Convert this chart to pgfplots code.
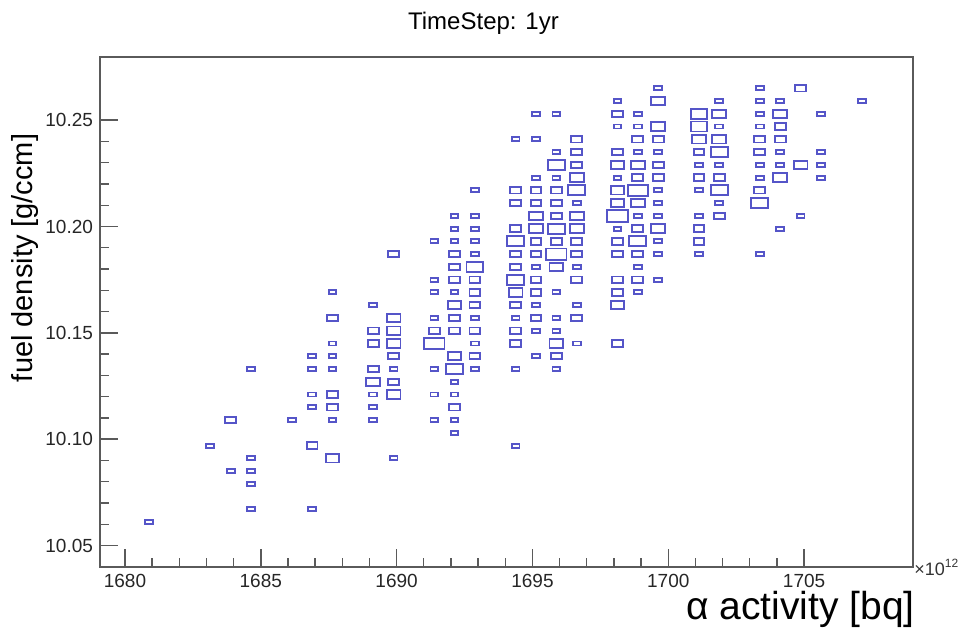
\documentclass[border=0pt]{standalone}
\usepackage{pgfplots}
\pgfplotsset{compat=1.18}
\usepackage{fontspec}
\setmainfont{Liberation Sans}
\definecolor{boxblue}{RGB}{85,85,200}
\definecolor{framegray}{RGB}{90,90,90}
\pgfdeclareplotmark{bxA}{\pgfpathrectangle{\pgfpoint{-1.95pt}{-1pt}}{\pgfpoint{3.9pt}{2pt}}\pgfusepathqstroke}
\pgfdeclareplotmark{bxB}{\pgfpathrectangle{\pgfpoint{-2.7pt}{-1.6pt}}{\pgfpoint{5.4pt}{3.2pt}}\pgfusepathqstroke}
\pgfdeclareplotmark{bxC}{\pgfpathrectangle{\pgfpoint{-3.45pt}{-2.1pt}}{\pgfpoint{6.9pt}{4.2pt}}\pgfusepathqstroke}
\pgfdeclareplotmark{bxD}{\pgfpathrectangle{\pgfpoint{-4.2pt}{-2.5pt}}{\pgfpoint{8.4pt}{5pt}}\pgfusepathqstroke}
\pgfdeclareplotmark{bxE}{\pgfpathrectangle{\pgfpoint{-5.075pt}{-2.85pt}}{\pgfpoint{10.15pt}{5.7pt}}\pgfusepathqstroke}

\pgfplotstableread{
x y
1680.89 10.061
1683.14 10.097
1683.89 10.085
1684.64 10.133
1684.64 10.091
1684.64 10.085
1684.64 10.079
1684.64 10.067
1686.14 10.109
1686.89 10.139
1686.89 10.133
1686.89 10.121
1686.89 10.115
1686.89 10.067
1687.64 10.169
1687.64 10.145
1687.64 10.139
1687.64 10.133
1687.64 10.109
1689.14 10.163
1689.14 10.121
1689.14 10.115
1689.14 10.109
1689.89 10.133
1689.89 10.091
1691.39 10.193
1691.39 10.175
1691.39 10.169
1691.39 10.157
1691.39 10.133
1691.39 10.121
1691.39 10.109
1692.13 10.205
1692.13 10.199
1692.13 10.193
1692.13 10.169
1692.13 10.127
1692.13 10.121
1692.13 10.109
1692.13 10.103
1692.88 10.217
1692.88 10.205
1692.88 10.199
1692.88 10.193
1692.88 10.187
1692.88 10.157
1692.88 10.145
1692.88 10.133
1694.38 10.241
1694.38 10.157
1694.38 10.133
1694.38 10.097
1695.13 10.253
1695.13 10.241
1695.13 10.223
1695.13 10.181
1695.13 10.163
1695.13 10.151
1695.13 10.139
1695.88 10.253
1695.88 10.235
1695.88 10.223
1695.88 10.169
1695.88 10.157
1695.88 10.151
1695.88 10.133
1696.63 10.211
1696.63 10.181
1696.63 10.163
1696.63 10.145
1698.13 10.259
1698.13 10.247
1698.13 10.223
1698.13 10.199
1698.88 10.253
1698.88 10.247
1698.88 10.235
1698.88 10.205
1698.88 10.181
1698.88 10.169
1699.63 10.265
1699.63 10.235
1699.63 10.217
1699.63 10.211
1699.63 10.205
1699.63 10.193
1699.63 10.187
1699.63 10.175
1701.13 10.229
1701.13 10.217
1701.13 10.205
1701.13 10.187
1701.88 10.259
1701.88 10.247
1701.88 10.229
1701.88 10.211
1703.37 10.265
1703.37 10.259
1703.37 10.253
1703.37 10.247
1703.37 10.229
1703.37 10.223
1703.37 10.187
1704.12 10.259
1704.12 10.235
1704.12 10.229
1704.12 10.199
1704.87 10.205
1705.62 10.253
1705.62 10.235
1705.62 10.229
1705.62 10.223
1707.12 10.259
}\sizeA

\pgfplotstableread{
x y
1683.89 10.109
1686.89 10.097
1687.64 10.157
1687.64 10.121
1687.64 10.115
1689.14 10.151
1689.14 10.145
1689.14 10.133
1689.89 10.187
1689.89 10.139
1689.89 10.127
1691.39 10.151
1692.13 10.187
1692.13 10.181
1692.13 10.175
1692.13 10.157
1692.13 10.151
1692.13 10.115
1692.88 10.175
1692.88 10.169
1692.88 10.163
1692.88 10.151
1692.88 10.139
1694.38 10.217
1694.38 10.211
1694.38 10.199
1694.38 10.187
1694.38 10.181
1694.38 10.163
1694.38 10.151
1694.38 10.145
1695.13 10.217
1695.13 10.211
1695.13 10.193
1695.13 10.187
1695.13 10.175
1695.13 10.169
1695.13 10.157
1695.88 10.217
1695.88 10.211
1695.88 10.205
1695.88 10.193
1695.88 10.139
1696.63 10.241
1696.63 10.235
1696.63 10.229
1696.63 10.193
1696.63 10.187
1696.63 10.175
1696.63 10.157
1698.13 10.253
1698.13 10.235
1698.13 10.193
1698.13 10.187
1698.13 10.175
1698.13 10.169
1698.13 10.145
1698.88 10.241
1698.88 10.223
1698.88 10.199
1698.88 10.187
1698.88 10.175
1699.63 10.241
1699.63 10.229
1699.63 10.223
1701.13 10.235
1701.13 10.223
1701.13 10.199
1701.13 10.193
1701.88 10.223
1701.88 10.205
1703.37 10.241
1703.37 10.235
1703.37 10.217
1704.12 10.247
1704.12 10.241
1704.87 10.265
}\sizeB

\pgfplotstableread{
x y
1687.64 10.091
1689.14 10.127
1689.89 10.157
1689.89 10.151
1689.89 10.145
1689.89 10.121
1692.13 10.163
1692.13 10.139
1694.38 10.169
1695.13 10.205
1695.13 10.199
1695.88 10.181
1695.88 10.145
1696.63 10.223
1696.63 10.205
1696.63 10.199
1698.13 10.229
1698.13 10.217
1698.13 10.211
1698.13 10.163
1698.88 10.229
1698.88 10.211
1699.63 10.259
1699.63 10.247
1699.63 10.199
1701.13 10.241
1701.88 10.253
1701.88 10.241
1704.12 10.253
1704.12 10.223
1704.87 10.229
}\sizeC

\pgfplotstableread{
x y
1692.13 10.133
1692.88 10.181
1694.38 10.193
1694.38 10.175
1695.88 10.229
1695.88 10.199
1696.63 10.217
1698.88 10.193
1701.13 10.253
1701.13 10.247
1701.88 10.235
1701.88 10.217
1703.37 10.211
}\sizeD

\pgfplotstableread{
x y
1691.39 10.145
1695.88 10.187
1698.13 10.205
1698.88 10.217
}\sizeE

\begin{document}
\begin{tikzpicture}
\useasboundingbox (-50pt,-32.5pt) rectangle (433.5pt,283.5pt);
\begin{axis}[
  scale only axis,
  width=406.5pt, height=255pt,
  xmin=1679.08, xmax=1709.01,
  ymin=10.0399, ymax=10.2797,
  xtick={1680,1685,1690,1695,1700,1705},
  ytick={10.05,10.1,10.15,10.2,10.25},
  minor x tick num=4,
  minor y tick num=4,
  tick pos=left,
  tick align=inside,
  major tick length=9pt,
  minor tick length=4.5pt,
  every tick/.style={framegray, line width=0.7pt},
  axis line style={framegray, line width=0.8pt},
  scaled ticks=false,
  /pgf/number format/assume math mode=true,
  xticklabel style={/pgf/number format/set thousands separator={}, font=\fontsize{9.5}{11}\selectfont, text=black!85},
  yticklabel style={/pgf/number format/.cd, fixed, fixed zerofill, precision=2, /tikz/.cd, font=\fontsize{9.5}{11}\selectfont, text=black!85},
  clip=false,
]
\addplot[only marks, mark=bxA, color=boxblue, line width=0.95pt] table[x=x,y=y] {\sizeA};
\addplot[only marks, mark=bxB, color=boxblue, line width=0.95pt] table[x=x,y=y] {\sizeB};
\addplot[only marks, mark=bxC, color=boxblue, line width=0.95pt] table[x=x,y=y] {\sizeC};
\addplot[only marks, mark=bxD, color=boxblue, line width=0.95pt] table[x=x,y=y] {\sizeD};
\addplot[only marks, mark=bxE, color=boxblue, line width=0.95pt] table[x=x,y=y] {\sizeE};

\node[font=\fontsize{12}{14}\selectfont] at (rel axis cs:0.4717,1.066) {TimeStep: 1yr};
\node[rotate=90, font=\fontsize{14.5}{17}\selectfont] at (rel axis cs:-0.0923,0.606) {fuel density [g/ccm]};
\node[anchor=north east, inner sep=0pt, font=\fontsize{19.5}{23}\selectfont] at ([yshift=-12pt]rel axis cs:1.0025,0) {α activity [bq]};
\node[anchor=south west, inner sep=0pt, font=\fontsize{9}{11}\selectfont, text=black!80] at ([xshift=0.5pt,yshift=-4.5pt]rel axis cs:1,0) {×10\textsuperscript{12}};
\end{axis}
\end{tikzpicture}
\end{document}
